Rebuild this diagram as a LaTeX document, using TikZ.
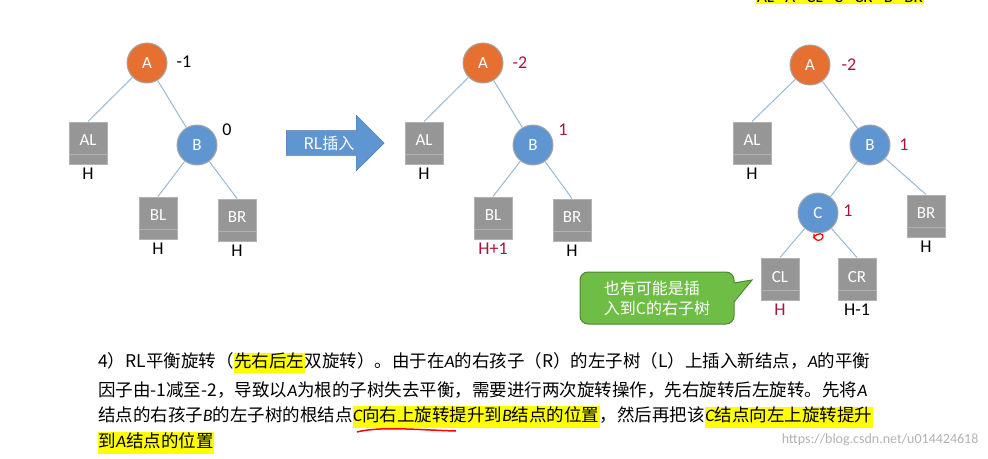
\documentclass[tikz,border=0pt]{standalone}
\usepackage{fontspec}
\setmainfont{Carlito}
\newfontfamily\cjk{Noto Sans CJK SC}
\newfontfamily\carl{Carlito}
\usetikzlibrary{shapes.arrows}
\definecolor{orn}{RGB}{230,112,50}
\definecolor{blu}{RGB}{95,150,210}
\definecolor{gbox}{RGB}{150,150,150}
\definecolor{edge}{RGB}{150,185,215}
\definecolor{dred}{RGB}{170,20,60}
\definecolor{grn}{RGB}{110,190,70}
\definecolor{hl}{RGB}{255,255,0}
\newcommand{\Iv}[1]{{\carl\itshape #1}}
\newcommand{\Hl}[1]{{\setlength\fboxsep{0.5pt}\colorbox{hl}{\strut #1}}}
\begin{document}
\begin{tikzpicture}[x=1pt,y=-1pt,
  cnode/.style={circle,minimum size=40,inner sep=0,draw=gray!70,line width=1,text=white,font=\carl\fontsize{17}{17}\selectfont},
  anode/.style={cnode,fill=orn},
  bnode/.style={cnode,fill=blu},
  sbox/.style={rectangle,minimum width=38,minimum height=42,inner sep=0,fill=gbox,draw=gray!60,line width=1,text=white,font=\carl\fontsize{17}{17}\selectfont,
     path picture={\draw[gray!60,line width=1] ([yshift=10]path picture bounding box.south west) -- ([yshift=10]path picture bounding box.south east);}},
  lab/.style={font=\carl\fontsize{18}{18}\selectfont},
  rlab/.style={lab,text=dred},
  ed/.style={draw=edge,line width=1}]
\useasboundingbox (0,0) rectangle (988,458);
% top text
\node[font=\carl\fontsize{17}{17}\selectfont,fill=hl,inner sep=1] (top) at (840,-3) {AL\,<A\,<CL\,<C\,<CR\,<B\,<BR};
% tree 1
\node[anode] (a1) at (147,63) {A};
\node[lab] (a1b) at (184,62) {-1};
\node[sbox,label={[lab]below:H}] (al1) at (88,143) {\raisebox{5pt}{AL}};
\node[bnode] (b1) at (197,145) {B};
\node[lab] (b1b) at (227,130) {0};
\node[sbox,label={[lab]below:H}] (bl1) at (158,218) {\raisebox{5pt}{BL}};
\node[sbox,label={[lab]below:H}] (br1) at (237,220) {\raisebox{5pt}{BR}};
\draw[ed] (a1) -- (al1.north); \draw[ed] (a1) -- (b1);
\draw[ed] (b1) -- (bl1.north); \draw[ed] (b1) -- (br1.north);
% arrow
\node[single arrow,fill=blu,draw=blu!80!black,minimum height=98,minimum width=56,single arrow head extend=12,single arrow tip angle=90,inner sep=2,text=white,font=\cjk\fontsize{16}{16}\selectfont] (arr) at (329,143) {RL插入\hspace{14pt}};
% tree 2
\node[anode] (a2) at (483,63) {A};
\node[rlab] (a2b) at (520,63) {-2};
\node[sbox,label={[lab]below:H}] (al2) at (424,143) {\raisebox{5pt}{AL}};
\node[bnode] (b2) at (533,145) {B};
\node[rlab] (b2b) at (563,130) {1};
\node[sbox,label={[rlab]below:H+1}] (bl2) at (493,218) {\raisebox{5pt}{BL}};
\node[sbox,label={[lab]below:H}] (br2) at (572,220) {\raisebox{5pt}{BR}};
\draw[ed] (a2) -- (al2.north); \draw[ed] (a2) -- (b2);
\draw[ed] (b2) -- (bl2.north); \draw[ed] (b2) -- (br2.north);
% tree 3
\node[anode] (a3) at (810,65) {A};
\node[rlab] (a3b) at (849,65) {-2};
\node[sbox,label={[lab]below:H}] (al3) at (752,143) {\raisebox{5pt}{AL}};
\node[bnode] (b3) at (870,145) {B};
\node[rlab] (b3b) at (904,145) {1};
\node[bnode] (c3) at (818,213) {C};
\node[rlab] (c3b) at (848,211) {1};
\node[sbox,label={[lab]below:H}] (br3) at (926,216) {\raisebox{5pt}{BR}};
\node[sbox,label={[rlab]below:H}] (cl3) at (780,279) {\raisebox{5pt}{CL}};
\node[sbox,label={[lab]below:H-1}] (cr3) at (857,279) {\raisebox{5pt}{CR}};
\draw[ed] (a3) -- (al3.north); \draw[ed] (a3) -- (b3);
\draw[ed] (b3) -- (c3); \draw[ed] (b3) -- (br3.north);
\draw[ed] (c3) -- (cl3.north); \draw[ed] (c3) -- (cr3.north);
\draw[red,line width=1.2] (814,234) .. controls (813,242) and (822,242) .. (823,237) .. controls (824,233) and (818,232) .. (813,238);
% callout
\node[rounded corners=8,fill=grn,draw=grn!70!black,line width=1,minimum width=154,minimum height=52,align=left,text=white,font=\cjk\fontsize{16}{20}\selectfont] (call) at (657,298) {也有可能是插\\入到C的右子树};
\fill[grn] (733,283) -- (752,280) -- (733,302) -- cycle;
\draw[grn!70!black,line width=1] (734,283) -- (752,280) -- (734,302);
% bottom text
\begin{scope}[every node/.style={anchor=west,inner sep=0,font=\cjk\fontsize{17.5}{17.5}\selectfont}]
\node (t1) at (98,363) {4）RL平衡旋转（\Hl{先右后左}双旋转）。由于在\Iv{A}的右孩子（R）的左子树（L）上插入新结点，\Iv{A}的平衡};
\node (t2) at (98,390) {因子由-1减至-2，导致以\Iv{A}为根的子树失去平衡，需要进行两次旋转操作，先右旋转后左旋转。先将\Iv{A}};
\node (t3) at (98,417) {结点的右孩子\Iv{B}的左子树的根结点\Hl{\Iv{C}向右上旋转提升到\Iv{B}结点的位置}，然后再把该\Hl{\Iv{C}结点向左上旋转提升}};
\node (t4) at (98,443) {\Hl{到\Iv{A}结点的位置}};
\end{scope}
\draw[red,line width=1.5] (357,432) .. controls (380,426) and (420,430) .. (456,431);
\node[anchor=east,text=gray!60,font=\carl\fontsize{14}{14}\selectfont] (wm) at (982,440) {https://blog.csdn.net/u014424618};
\end{tikzpicture}
\end{document}
